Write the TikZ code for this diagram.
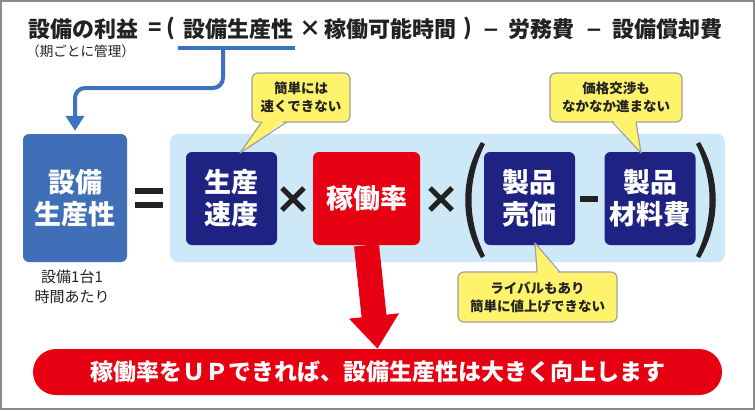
\documentclass[tikz,border=0pt]{standalone}
\usepackage{fontspec}
\setmainfont{Noto Sans CJK JP}
\newfontfamily\dejavu{DejaVu Sans}
\usetikzlibrary{arrows.meta}
\definecolor{bluebox}{HTML}{3F6FB6}
\definecolor{navy}{HTML}{1E2282}
\definecolor{redc}{HTML}{E60012}
\definecolor{lightb}{HTML}{CDE8F7}
\definecolor{yel}{HTML}{FFF36B}
\definecolor{callb}{HTML}{A0A0A0}
\definecolor{arrowb}{HTML}{3B73C1}
\definecolor{ink}{HTML}{222222}
\definecolor{frame}{HTML}{8A8A8A}
\begin{document}
\begin{tikzpicture}[x=1pt,y=-1pt,
  ttl/.style={inner sep=0pt, text=ink, font=\bfseries\fontsize{22}{26}\selectfont},
  mns/.style={inner sep=0pt, text=ink, anchor=base, font=\dejavu\bfseries\fontsize{20}{24}\selectfont},
  tbox/.style={rounded corners=6pt, inner sep=0pt, align=center, text=white,
    font=\bfseries\fontsize{27}{32}\selectfont},
  callout/.style={fill=yel, draw=callb, line width=1.2pt, rounded corners=6pt,
    inner sep=0pt, align=center, text=ink, font=\bfseries\fontsize{13.5}{18}\selectfont},
  op/.style={ink, line width=5pt},
  small/.style={inner sep=0pt, align=center, text=ink}]
\useasboundingbox (0,0) rectangle (755,410);
\fill[white] (0,0) rectangle (755,410);
\draw[frame, line width=2pt] (1,1) rectangle (754,409);

% title
\node[ttl, anchor=west] (t1) at (28,29) {設備の利益};
\node[ttl] (teq) at (155,29) {=};
\node[ttl] (tpa) at (171,29) {(};
\node[ttl, anchor=west] (t2) at (183,29) {設備生産性};
\node[ttl] (tx) at (310,29) {×};
\node[ttl, anchor=west] (t3) at (324,29) {稼働可能時間};
\node[ttl] (tpb) at (468,29) {)};
\node[mns] (tm1) at (491,36.5) {−};
\node[ttl, anchor=west] (t4) at (508,29) {労務費};
\node[mns] (tm2) at (594,36.5) {−};
\node[ttl, anchor=west] (t5) at (612,29) {設備償却費};
\node[small, anchor=west, font=\fontsize{13.6}{16}\selectfont] (sub) at (26,51) {（期ごとに管理）};

% light blue region
\fill[lightb, rounded corners=8pt] (170,134) rectangle (725,262);

% boxes
\node[tbox, fill=bluebox, minimum width=104pt, minimum height=128pt] (prod) at (75,198) {設備\\生産性};
\node[small, font=\fontsize{15}{20}\selectfont] (per) at (72,287) {設備1台1\\時間あたり};
\node[tbox, fill=navy, minimum width=91pt, minimum height=93pt] (speed) at (231.5,198.5) {生産\\速度};
\node[tbox, fill=redc, minimum width=107pt, minimum height=93pt] (rate) at (366.5,198.5) {稼働率};
\node[tbox, fill=navy, minimum width=91pt, minimum height=93pt] (price) at (529.5,198.5) {製品\\売価};
\node[tbox, fill=navy, minimum width=91pt, minimum height=93pt] (cost) at (650,198.5) {製品\\材料費};

% operators
\fill[ink] (135,188) rectangle (163,194);
\fill[ink] (135,202) rectangle (163,208);
\draw[op] (282,188) -- (304,210) (304,188) -- (282,210);
\draw[op] (430,188) -- (452,210) (452,188) -- (430,210);
\fill[ink] (580,196) rectangle (598,202);
\fill[ink] (481,142) .. controls (460,178) and (460,222) .. (481,258)
  -- (485,256) .. controls (467,220) and (467,180) .. (485,144) -- cycle;
\fill[ink] (700,142) .. controls (721,178) and (721,222) .. (700,258)
  -- (696,256) .. controls (714,220) and (714,180) .. (696,144) -- cycle;

% bottom banner
\node[fill=redc, rounded corners=23pt, minimum width=689pt, minimum height=46pt,
  inner sep=0pt, text=white, font=\bfseries\fontsize{23}{26}\selectfont] (banner) at (377.5,372)
  {稼働率をＵＰできれば、設備生産性は大きく向上します};

% red arrow
\draw[redc, line width=25pt, -{Triangle[length=33pt,width=48pt]}] (rate.south) -- (banner.north);

% blue connector
\coordinate (ulL) at (178,48);
\coordinate (ulR) at (295,48);
\coordinate (ulM) at (223,46);
\draw[arrowb, line width=4pt] (ulL) -- (ulR);
\draw[arrowb, line width=4pt, rounded corners=10pt, shorten >=3pt,
  -{Triangle[length=15pt,width=18pt]}] (ulM) -- (223,88) -| (prod.north);

% callouts
\node[callout, minimum width=98pt, minimum height=49pt] (c1) at (301,97.5) {簡単には\\速くできない};
\coordinate (c1t) at (240,153);
\fill[yel] (262,119) -- (c1t) -- (287,119) -- cycle;
\draw[callb, line width=1.2pt, line join=round] (262,121.8) -- (c1t) -- (287,121.8);

\node[callout, minimum width=132pt, minimum height=49pt] (c2) at (616,97.5) {価格交渉も\\なかなか進まない};
\coordinate (c2t) at (641,153);
\fill[yel] (612,119) -- (c2t) -- (636,119) -- cycle;
\draw[callb, line width=1.2pt, line join=round] (612,121.8) -- (c2t) -- (636,121.8);

\node[callout, minimum width=159pt, minimum height=50pt] (c3) at (537.5,297) {ライバルもあり\\簡単に値上げできない};
\coordinate (c3t) at (535,243);
\fill[yel] (537,275) -- (c3t) -- (560,275) -- cycle;
\draw[callb, line width=1.2pt, line join=round] (537,272.2) -- (c3t) -- (560,272.2);
\end{tikzpicture}
\end{document}
